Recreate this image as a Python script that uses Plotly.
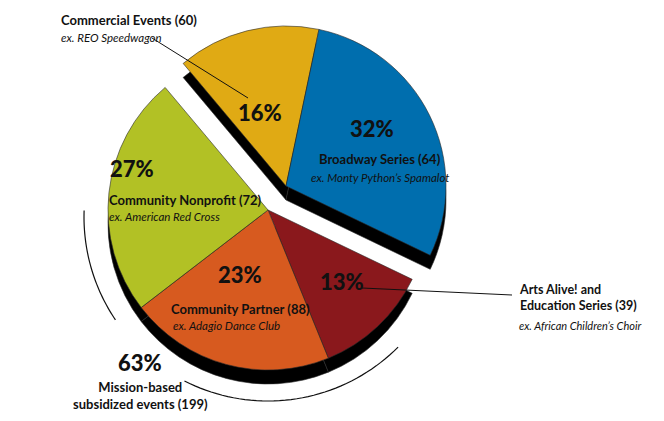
import math
import plotly.graph_objects as go

# ---- data ----
categories = ["Commercial Events", "Broadway Series", "Arts Alive! and Education Series",
              "Community Partner", "Community Nonprofit"]
percents = [16, 32, 13, 23, 27]
counts = [60, 64, 39, 88, 72]
examples = ["ex. REO Speedwagon", "ex. Monty Python’s Spamalot", "ex. African Children’s Choir",
            "ex. Adagio Dance Club", "ex. American Red Cross"]
colors = ["#E0AA14", "#006EAE", "#8A181C", "#D75A1F", "#B2C125"]
group_label = "Mission-based<br>subsidized events"
group_pct = 63
group_count = 199
exploded = [True, True, False, False, False]

# ---- layout constants (positions given in browser-window pixels) ----
WIN_W, WIN_H = 664, 421
OFF = 8                      # default page body margin
W, H = WIN_W - 2 * OFF, WIN_H - 2 * OFF
R = 160
CX, CY = 268, 210
SHIFT = (18, -24)
DEPTH = 14
ROT = -40
FONT = "Lato, 'Open Sans', sans-serif"
CLEAR = "rgba(0,0,0,0)"


def P(x, y):
    return (x - OFF) / W, 1 - (y - OFF) / H


def dom(cx, cy):
    x0, y1 = P(cx - R, cy - R)
    x1, y0 = P(cx + R, cy + R)
    return dict(x=[x0, x1], y=[y0, y1])


def pie(cx, cy, keep, shadow):
    cols = [("#000000" if shadow else c) if k else CLEAR for c, k in zip(colors, keep)]
    lw = [0.6 if k else 0 for k in keep]
    return go.Pie(values=percents, labels=categories, sort=False, direction="clockwise",
                  rotation=ROT, domain=dom(cx, cy), textinfo="none", hoverinfo="skip",
                  showlegend=False,
                  marker=dict(colors=cols, line=dict(color="#2a2a2a", width=lw)))


up = exploded
low = [not e for e in exploded]
ucx, ucy = CX + SHIFT[0], CY + SHIFT[1]
fig = go.Figure()
fig.add_trace(pie(ucx, ucy + DEPTH, up, True))
fig.add_trace(pie(ucx, ucy, up, False))
fig.add_trace(pie(CX, CY + DEPTH, low, True))
fig.add_trace(pie(CX, CY, low, False))

ann = []


def txt(x, y, s, size, weight="normal", italic=False, align="center", xanchor="center"):
    if italic:
        s = "<i>" + s + "</i>"
    px_, py_ = P(x, y)
    ann.append(dict(x=px_, y=py_, xref="paper", yref="paper", text=s, showarrow=False,
                    xanchor=xanchor, yanchor="middle", align=align, borderpad=0,
                    font=dict(family=FONT, size=size, color="#111", weight=weight)))


def lab(i):
    return f"{categories[i]} ({counts[i]})"

PS = 22
# percentages
txt(260, 112, f"{percents[0]}%", PS, weight=900)
txt(372, 128, f"{percents[1]}%", PS, weight=900)
txt(342, 281, f"{percents[2]}%", PS, weight=900)
txt(240, 274, f"{percents[3]}%", PS, weight=900)
txt(132, 168, f"{percents[4]}%", PS, weight=900)

LS, ES = 13, 11.5
# labels
txt(60, 20, lab(0), LS, weight="bold", xanchor="left")
txt(60, 37, examples[0], ES, italic=True, xanchor="left")
txt(380, 159, lab(1), LS, weight="bold")
txt(380, 177, examples[1], ES, italic=True)
txt(518, 297, "Arts Alive! and<br>Education Series (" + str(counts[2]) + ")", 12.5,
    weight="bold", align="left", xanchor="left")
txt(518, 325, examples[2], 11, italic=True, xanchor="left")
txt(170, 309, lab(3), LS, weight="bold", xanchor="left")
txt(172, 325, examples[3], ES, italic=True, xanchor="left")
txt(108, 200, lab(4), LS, weight="bold", xanchor="left")
txt(108, 216, examples[4], ES, italic=True, xanchor="left")

# group
txt(140, 362, f"{group_pct}%", PS, weight=900)
txt(140, 395, group_label.replace("events", f"events ({group_count})"), LS, weight="bold")

shapes = []


def line(x0, y0, x1, y1):
    a, b = P(x0, y0)
    c, d = P(x1, y1)
    shapes.append(dict(type="line", xref="paper", yref="paper", x0=a, y0=b, x1=c, y1=d,
                       line=dict(color="#111", width=1)))


line(152, 38, 248, 98)
line(362, 288, 512, 295)

# bracket arc around the mission-based slices
RA = 184
ACY = CY + 7


def arc(a0, a1):
    pts = []
    n = 40
    for k in range(n + 1):
        a = math.radians(a0 + (a1 - a0) * k / n)
        x = CX + RA * math.sin(a)
        y = ACY - RA * math.cos(a)
        px_, py_ = P(x, y)
        pts.append(f"{px_:.5f},{py_:.5f}")
    return "M" + " L".join(pts)


for a0, a1 in [(135, 207), (236, 272)]:
    shapes.append(dict(type="path", xref="paper", yref="paper", path=arc(a0, a1),
                       line=dict(color="#111", width=1.2)))

fig.update_layout(width=W, height=H, margin=dict(l=0, r=0, t=0, b=0),
                  paper_bgcolor="white", plot_bgcolor="white",
                  annotations=ann, shapes=shapes)
fig.write_html("out.html")
